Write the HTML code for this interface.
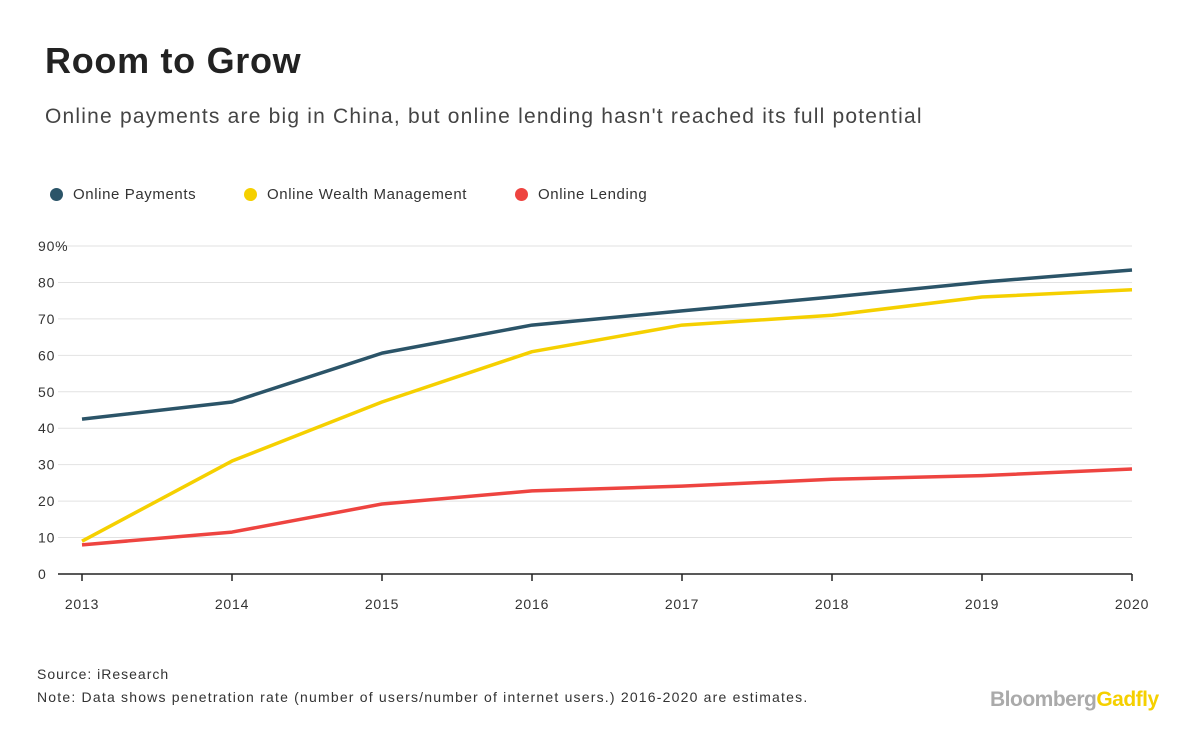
<!DOCTYPE html>
<html><head><meta charset="utf-8"><style>
body{margin:0;background:#fff;font-family:"Liberation Sans",sans-serif;}
#wrap{position:relative;width:1200px;height:756px;overflow:hidden;}
.t{position:absolute;white-space:nowrap;}
</style></head><body>
<div id="wrap">
<div class="t" style="left:45px;top:40px;font-size:36px;font-weight:bold;color:#222;letter-spacing:0.7px">Room to Grow</div>
<div class="t" style="left:45px;top:105px;font-size:21px;color:#444;letter-spacing:1.2px">Online payments are big in China, but online lending hasn't reached its full potential</div>
<div class="t" style="left:50px;top:186px;font-size:15px;color:#333;letter-spacing:0.6px"><span style="display:inline-block;width:13px;height:13px;border-radius:50%;background:#2b5468;vertical-align:-2px;margin-right:10px"></span>Online Payments</div>
<div class="t" style="left:244px;top:186px;font-size:15px;color:#333;letter-spacing:0.6px"><span style="display:inline-block;width:13px;height:13px;border-radius:50%;background:#f5d000;vertical-align:-2px;margin-right:10px"></span>Online Wealth Management</div>
<div class="t" style="left:515px;top:186px;font-size:15px;color:#333;letter-spacing:0.6px"><span style="display:inline-block;width:13px;height:13px;border-radius:50%;background:#ee4440;vertical-align:-2px;margin-right:10px"></span>Online Lending</div>
<svg id="plot" width="1200" height="756" style="position:absolute;left:0;top:0"></svg>
<div class="t" style="left:37px;top:666px;font-size:14px;color:#333;letter-spacing:1px">Source: iResearch</div>
<div class="t" style="left:37px;top:689px;font-size:14px;color:#333;letter-spacing:1.2px">Note: Data shows penetration rate (number of users/number of internet users.) 2016-2020 are estimates.</div>
<div class="t" style="left:990px;top:688px;font-size:21px;font-weight:bold;letter-spacing:-0.5px"><span style="color:#aaa">Bloomberg</span><span style="color:#f5d000">Gadfly</span></div>
</div>
<script>
const years=[2013,2014,2015,2016,2017,2018,2019,2020];
const payments=[42.5,47.2,60.6,68.3,72.2,76,80.1,83.4];
const wealth=[9,31,47.2,61,68.3,71,76,78];
const lending=[8,11.5,19.2,22.8,24.1,26,27,28.8];
const yTicks=[0,10,20,30,40,50,60,70,80,90];
const svg=document.getElementById('plot');
const NS='http://www.w3.org/2000/svg';
const x=i=>82+i*(1132-82)/(years.length-1);
const y=v=>574-v*(574-246)/90;
function mk(t,a){const e=document.createElementNS(NS,t);for(const k in a)e.setAttribute(k,a[k]);svg.appendChild(e);return e;}
yTicks.forEach(v=>{
 if(v>0){const g=mk('line',{x1:58,x2:1132,y1:y(v),y2:y(v),stroke:'#e2e2e2','stroke-width':1});
 
 }
 const t=mk('text',{x:38,y:y(v)+5,'font-size':14,fill:'#333','letter-spacing':'0.8','font-family':'Liberation Sans, sans-serif'});
 t.textContent=v===90?'90%':String(v);
 
 
});
const ax=mk('line',{x1:58,x2:1132,y1:574,y2:574,stroke:'#222','stroke-width':1.5});


years.forEach((yr,i)=>{
 const tk=mk('line',{x1:x(i),x2:x(i),y1:574,y2:581,stroke:'#222','stroke-width':1.5});
 
 
 const t=mk('text',{x:x(i),y:609,'font-size':14,fill:'#333','text-anchor':'middle','letter-spacing':'0.8','font-family':'Liberation Sans, sans-serif'});
 t.textContent=yr;
 
 
});
[[lending,'#ee4440','line-online-lending'],[wealth,'#f5d000','line-online-wealth-management'],[payments,'#2b5468','line-online-payments']].forEach(([d,c,n])=>{
 const p=mk('polyline',{points:d.map((v,i)=>x(i)+','+y(v)).join(' '),fill:'none',stroke:c,'stroke-width':3.5,'stroke-linejoin':'round'});
 
 
});
</script>
</body></html>
